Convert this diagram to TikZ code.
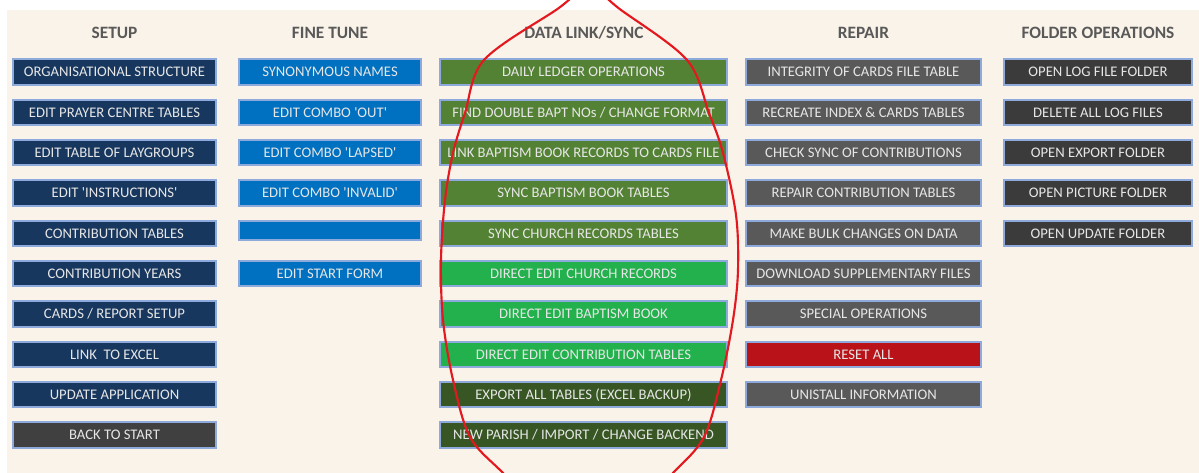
\documentclass[tikz,border=0pt]{standalone}
\usepackage{fontspec}
\setmainfont{Carlito}
\definecolor{bg}{HTML}{FAF3E9}
\definecolor{bordc}{HTML}{8EA9DB}
\definecolor{navy}{HTML}{17375E}
\definecolor{fblue}{HTML}{0070C0}
\definecolor{olive}{HTML}{548235}
\definecolor{bgreen}{HTML}{22B14C}
\definecolor{dgreen}{HTML}{375623}
\definecolor{rgrey}{HTML}{595959}
\definecolor{ogrey}{HTML}{3B3B3B}
\definecolor{bgrey}{HTML}{404040}
\definecolor{rred}{HTML}{B91319}
\definecolor{hdr}{HTML}{595959}
\definecolor{txt}{HTML}{E6E6E6}
\definecolor{ring}{HTML}{E3191F}
\newcommand{\sq}{\textquotesingle}
\tikzset{
  btn/.style={draw=bordc, line width=1.4pt, fill=#1, text=txt,
    font=\fontsize{11}{13}\selectfont, inner sep=0pt, minimum height=19pt},
  cola/.style={minimum width=152pt},
  colb/.style={minimum width=136.5pt},
  colc/.style={minimum width=215pt},
  cold/.style={minimum width=176pt},
  cole/.style={minimum width=141pt},
  hdrtext/.style={text=hdr, font=\bfseries\fontsize{13}{15}\selectfont},
}
\begin{document}
\begin{tikzpicture}[x=0.75pt,y=-0.75pt]
\useasboundingbox (0,0) rectangle (1199,473);
\fill[white] (0,0) rectangle (1199,473);
\fill[bg] (7,10) rectangle (1199,473);
% headers
\node[hdrtext] (h1) at (114.5,33) {SETUP};
\node[hdrtext] (h2) at (330,33) {FINE TUNE};
\node[hdrtext] (h3) at (584,33) {DATA LINK/SYNC};
\node[hdrtext] (h4) at (863.5,33) {REPAIR};
\node[hdrtext] (h5) at (1098,33) {FOLDER OPERATIONS};
% SETUP
\node[btn=navy, cola] (s0) at (114.5,72.0) {ORGANISATIONAL STRUCTURE};
\node[btn=navy, cola] (s1) at (114.5,112.3) {EDIT PRAYER CENTRE TABLES};
\node[btn=navy, cola] (s2) at (114.5,152.7) {EDIT TABLE OF LAYGROUPS};
\node[btn=navy, cola] (s3) at (114.5,193.0) {EDIT \sq INSTRUCTIONS\sq};
\node[btn=navy, cola] (s4) at (114.5,233.3) {CONTRIBUTION TABLES};
\node[btn=navy, cola] (s5) at (114.5,273.7) {CONTRIBUTION YEARS};
\node[btn=navy, cola] (s6) at (114.5,314.0) {CARDS / REPORT SETUP};
\node[btn=navy, cola] (s7) at (114.5,354.3) {LINK\ \ TO EXCEL};
\node[btn=navy, cola] (s8) at (114.5,394.7) {UPDATE APPLICATION};
\node[btn=bgrey, cola] (s9) at (114.5,435.0) {BACK TO START};
% FINE TUNE
\node[btn=fblue, colb] (f0) at (330,72.0) {SYNONYMOUS NAMES};
\node[btn=fblue, colb] (f1) at (330,112.3) {EDIT COMBO \sq OUT\sq};
\node[btn=fblue, colb] (f2) at (330,152.7) {EDIT COMBO \sq LAPSED\sq};
\node[btn=fblue, colb] (f3) at (330,193.0) {EDIT COMBO \sq INVALID\sq};
\node[btn=fblue, colb, minimum height=14pt] (f4) at (330,230.5) {};
\node[btn=fblue, colb] (f5) at (330,273.7) {EDIT START FORM};
% DATA LINK/SYNC
\node[btn=olive, colc] (d0) at (583.5,72.0) {DAILY LEDGER OPERATIONS};
\node[btn=olive, colc] (d1) at (583.5,112.3) {FIND DOUBLE BAPT NOs / CHANGE FORMAT};
\node[btn=olive, colc] (d2) at (583.5,152.7) {LINK BAPTISM BOOK RECORDS TO CARDS FILE};
\node[btn=olive, colc] (d3) at (583.5,193.0) {SYNC BAPTISM BOOK TABLES};
\node[btn=olive, colc] (d4) at (583.5,233.3) {SYNC CHURCH RECORDS TABLES};
\node[btn=bgreen, colc] (d5) at (583.5,273.7) {DIRECT EDIT CHURCH RECORDS};
\node[btn=bgreen, colc] (d6) at (583.5,314.0) {DIRECT EDIT BAPTISM BOOK};
\node[btn=bgreen, colc] (d7) at (583.5,354.3) {DIRECT EDIT CONTRIBUTION TABLES};
\node[btn=dgreen, colc] (d8) at (583.5,394.7) {EXPORT ALL TABLES (EXCEL BACKUP)};
\node[btn=dgreen, colc] (d9) at (583.5,435.0) {NEW PARISH / IMPORT / CHANGE BACKEND};
% REPAIR
\node[btn=rgrey, cold] (r0) at (863.5,72.0) {INTEGRITY OF CARDS FILE TABLE};
\node[btn=rgrey, cold] (r1) at (863.5,112.3) {RECREATE INDEX \& CARDS TABLES};
\node[btn=rgrey, cold] (r2) at (863.5,152.7) {CHECK SYNC OF CONTRIBUTIONS};
\node[btn=rgrey, cold] (r3) at (863.5,193.0) {REPAIR CONTRIBUTION TABLES};
\node[btn=rgrey, cold] (r4) at (863.5,233.3) {MAKE BULK CHANGES ON DATA};
\node[btn=rgrey, cold] (r5) at (863.5,273.7) {DOWNLOAD SUPPLEMENTARY FILES};
\node[btn=rgrey, cold] (r6) at (863.5,314.0) {SPECIAL OPERATIONS};
\node[btn=rred, cold] (r7) at (863.5,354.3) {RESET ALL};
\node[btn=rgrey, cold] (r8) at (863.5,394.7) {UNISTALL INFORMATION};
% FOLDER OPERATIONS
\node[btn=ogrey, cole] (o0) at (1098,72.0) {OPEN LOG FILE FOLDER};
\node[btn=ogrey, cole] (o1) at (1098,112.3) {DELETE ALL LOG FILES};
\node[btn=ogrey, cole] (o2) at (1098,152.7) {OPEN EXPORT FOLDER};
\node[btn=ogrey, cole] (o3) at (1098,193.0) {OPEN PICTURE FOLDER};
\node[btn=ogrey, cole] (o4) at (1098,233.3) {OPEN UPDATE FOLDER};
% red ring
\begin{scope}
\clip (0,0) rectangle (1199,473);
\draw[ring, line width=1.6pt] plot[smooth cycle, tension=0.55] coordinates {
 (589,-12) (621,10) (687,60) (709,113) (723,153) (736,215) (738,270) (733,320)
 (721,380) (704,437) (673,473) (630,515) (588,535) (545,515) (503,473)
 (470,437) (453,380) (443,320) (441,260) (445,200) (453,153) (465,113)
 (484,60) (556,10)};
\end{scope}
\end{tikzpicture}
\end{document}
